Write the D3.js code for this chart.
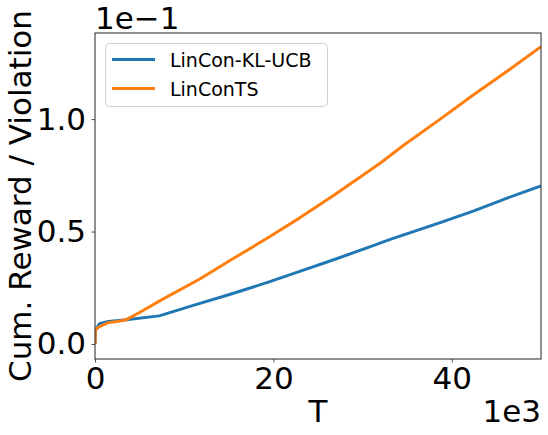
<!DOCTYPE html>
<html>
<head>
<meta charset="utf-8">
<style>
  body { margin: 0; background: #fff; }
  text { font-family: "DejaVu Sans", sans-serif; }
</style>
</head>
<body>
<svg id="chart"></svg>
<script src="https://d3js.org/d3.v7.min.js"></script>
<script>
// values, y in units of 1e-1, T in units of 1e3
var SERIES_NAMES = ['LinCon-KL-UCB', 'LinConTS']
var SERIES_COLORS = ['#1f77b4', '#ff7f0e']

var ucbT = [0, 0.05, 0.5, 1.5, 3.5, 7.2, 11.2, 14.9, 19.6, 23.2, 27, 30.8, 33.1, 34.6, 38.7, 42.4, 46.2, 50]
var ucbY = [0, 0.06, 0.09, 0.1, 0.108, 0.125, 0.174, 0.218, 0.277, 0.326, 0.378, 0.432, 0.465, 0.485, 0.54, 0.591, 0.649, 0.703]

var tsT = [0, 0.05, 0.5, 1.5, 2.5, 3.5, 5, 7.4, 11.7, 15.5, 19.2, 23, 26.7, 32, 34.6, 38.7, 42.4, 46.2, 50]
var tsY = [0, 0.065, 0.077, 0.095, 0.1, 0.108, 0.14, 0.195, 0.288, 0.38, 0.468, 0.562, 0.659, 0.805, 0.884, 1.0, 1.107, 1.213, 1.322]

var X_TICKS = [0, 20, 40]
var Y_TICKS = [0, 0.5, 1.0]

var W = 548, H = 435
var LEFT = 95, RIGHT = 541, TOP = 33, BOTTOM = 359
var FONT = '31px'

var svg = d3.select('#chart').attr('width', W).attr('height', H)

var x = d3.scaleLinear().domain([0, 50]).range([LEFT, RIGHT])
var y = d3.scaleLinear().domain([-0.0668, 1.383]).range([BOTTOM, TOP])

var line = d3.line()
	.x(function(d){ return x(d[0]) })
	.y(function(d){ return y(d[1]) })

var series = [d3.zip(ucbT, ucbY), d3.zip(tsT, tsY)]

svg.append('defs').append('clipPath').attr('id', 'clip')
	.append('rect')
	.attr('x', LEFT).attr('y', TOP)
	.attr('width', RIGHT - LEFT).attr('height', BOTTOM - TOP)

svg.append('g').attr('clip-path', 'url(#clip)')
	.selectAll('path')
	.data(series)
	.enter().append('path')
	.style('fill', 'none')
	.style('stroke', function(d, i){ return SERIES_COLORS[i] })
	.style('stroke-width', 3)
	.style('stroke-linejoin', 'round')
	.attr('d', line)

// axes
var xAxis = svg.append('g')
	.attr('transform', 'translate(0,' + BOTTOM + ')')
	.call(d3.axisBottom(x).tickValues(X_TICKS).tickFormat(d3.format('d')).tickSize(3.5).tickPadding(4.5))
var yAxis = svg.append('g')
	.attr('transform', 'translate(' + LEFT + ',0)')
	.call(d3.axisLeft(y).tickValues(Y_TICKS).tickFormat(d3.format('.1f')).tickSize(3.5).tickPadding(5.5))

;[xAxis, yAxis].forEach(function(g){
	g.select('.domain').remove()
	g.selectAll('.tick line').attr('stroke', '#222').attr('stroke-width', 0.8)
	g.selectAll('.tick text')
		.attr('fill', '#000')
		.style('font-size', FONT)
		.style('font-family', '"DejaVu Sans", sans-serif')
})

// frame
svg.append('rect')
	.attr('x', LEFT).attr('y', TOP)
	.attr('width', RIGHT - LEFT).attr('height', BOTTOM - TOP)
	.style('fill', 'none')
	.style('stroke', '#222')
	.style('stroke-width', 1)

// labels
svg.append('text')
	.attr('x', (LEFT + RIGHT) / 2)
	.attr('y', 421.5)
	.attr('text-anchor', 'middle')
	.style('font-size', FONT)
	.text('T')

svg.append('text')
	.attr('x', RIGHT)
	.attr('y', 421.5)
	.attr('text-anchor', 'end')
	.style('font-size', FONT)
	.text('1e3')

svg.append('text')
	.attr('x', LEFT)
	.attr('y', 29)
	.attr('text-anchor', 'start')
	.style('font-size', FONT)
	.text('1e\u22121')

svg.append('text')
	.attr('transform', 'translate(31,' + ((TOP + BOTTOM) / 2) + ') rotate(-90)')
	.attr('text-anchor', 'middle')
	.style('font-size', FONT)
	.text('Cum. Reward / Violation')

// legend
var legend = svg.append('g')
legend.append('rect')
	.attr('x', 105.5).attr('y', 43.5)
	.attr('width', 222).attr('height', 63)
	.attr('rx', 4).attr('ry', 4)
	.style('fill', '#fff').style('fill-opacity', 0.8)
	.style('stroke', '#d0d0d0').style('stroke-width', 1)

SERIES_NAMES.forEach(function(name, i){
	var ly = 59.5 + i * 29
	legend.append('line')
		.attr('x1', 112).attr('x2', 155)
		.attr('y1', ly).attr('y2', ly)
		.style('stroke', SERIES_COLORS[i])
		.style('stroke-width', 3)
	legend.append('text')
		.attr('x', 170)
		.attr('y', ly + 7)
		.style('font-size', '19px')
		.text(name)
})
</script>
</body>
</html>
